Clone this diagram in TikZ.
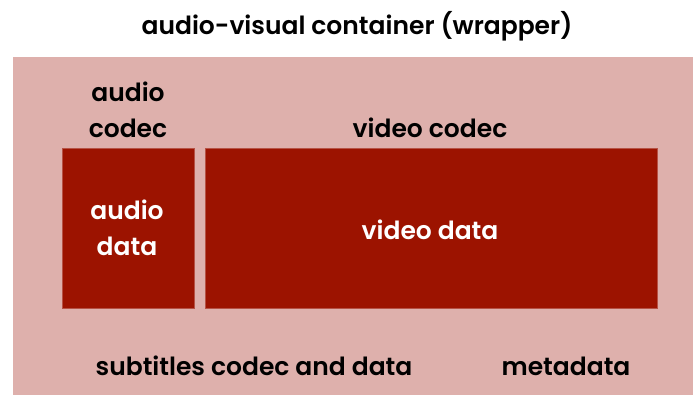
\documentclass[tikz,border=0pt]{standalone}
\usepackage{fontspec}
\setmainfont{Poppins SemiBold}
\definecolor{wrapbg}{HTML}{DEB0AC}
\definecolor{streambox}{HTML}{9C1300}
\tikzset{
  label/.style={font=\fontsize{25}{30}\selectfont, text=black, inner sep=0pt, anchor=base, align=center},
  boxlabel/.style={label, text=white},
  databox/.style={fill=streambox, draw=streambox!60!wrapbg, line width=0.6pt}
}
\begin{document}
\begin{tikzpicture}[x=1pt,y=-1pt]
  \useasboundingbox (0,0) rectangle (693,395);
  % container background
  \fill[wrapbg] (13,57.5) rectangle (693,395);
  % stream blocks
  \node[databox, minimum width=132pt, minimum height=159pt, inner sep=0pt, anchor=north west] (audio) at (61.5,148.5) {};
  \node[databox, minimum width=452pt, minimum height=159pt, inner sep=0pt, anchor=north west] (video) at (204.5,148.5) {};
  % labels
  \node[label] (title) at (357,35) {audio-visual container (wrapper)};
  \node[label] (acodec1) at (128,101.5) {audio};
  \node[label] (acodec2) at (128,138) {codec};
  \node[label] (vcodec) at (430,138) {video codec};
  \node[boxlabel] (adata1) at (127,219.5) {audio};
  \node[boxlabel] (adata2) at (127,256) {data};
  \node[boxlabel] (vdata) at (430,240) {video data};
  \node[label] (subs) at (254,375) {subtitles codec and data};
  \node[label] (meta) at (566,375) {metadata};
\end{tikzpicture}
\end{document}
